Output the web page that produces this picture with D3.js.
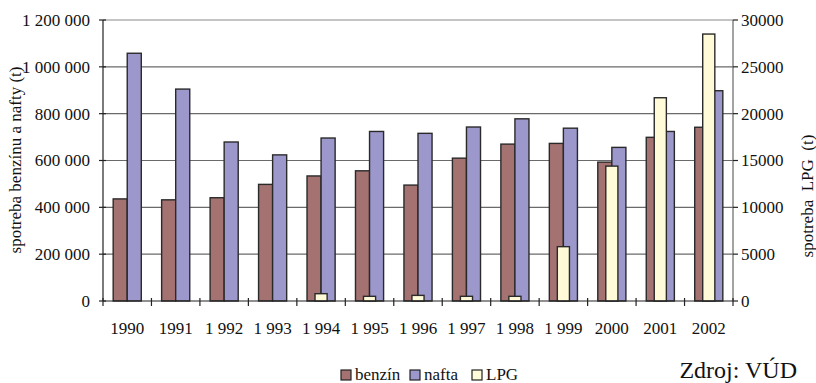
<!DOCTYPE html>
<html><head><meta charset="utf-8">
<script src="https://cdn.jsdelivr.net/npm/d3@7"></script>
<style>
html,body{margin:0;padding:0;background:#fff;}
svg{display:block;}
svg text{font-family:"Liberation Serif","DejaVu Serif",serif;}
</style></head>
<body>
<svg id="c" width="816" height="383"></svg>
<script>
const years = ["1990","1991","1 992","1 993","1 994","1 995","1 996","1 997","1 998","1 999","2000","2001","2002"];
const benzin = [436000,432000,441000,498000,534000,556000,495000,610000,670000,673000,593000,699000,742000];
const nafta  = [1058000,905000,679000,624000,696000,724000,716000,743000,778000,738000,656000,724000,898000];
const lpg    = [0,0,0,0,780,500,600,500,500,5800,14400,21700,28500];
const leftTicks  = [0,200000,400000,600000,800000,1000000,1200000];
const rightTicks = [0,5000,10000,15000,20000,25000,30000];
const seriesNames = ["benzín","nafta","LPG"];
const colors = ["#A57272","#9C98CC","#FFFAD7"];
const FONT = "Liberation Serif, DejaVu Serif, serif";

const svg = d3.select("#c").attr("font-family",FONT);
const L = 103, R = 733, T = 20, B = 301;
const x = d3.scaleBand().domain(years).range([L,R]).padding(0);
const y0 = d3.scaleLinear().domain([0,1200000]).range([B,T]);
const y1 = d3.scaleLinear().domain([0,30000]).range([B,T]);
const loc = d3.formatLocale({decimal:",",thousands:" ",grouping:[3],currency:["",""]});
const fmtL = loc.format(",d");

// gridlines
svg.append("g").selectAll("line").data(leftTicks.filter(d=>d>0)).join("line")
  .attr("x1",L).attr("x2",R).attr("y1",d=>y0(d)).attr("y2",d=>y0(d))
  .attr("stroke",d=>d===1200000?"#8a8a8a":"#6a6a6a").attr("stroke-width",1.2);

const bw = x.bandwidth()*0.29;
const lw = x.bandwidth()*0.25;
const c = d => x(d)+x.bandwidth()/2;
const bars = svg.append("g").attr("stroke","#2a2a2a").attr("stroke-width",1.4);
bars.selectAll(".b").data(years.map((d,i)=>({y:d,v:benzin[i]}))).join("rect")
  .attr("x",d=>c(d.y)-bw).attr("width",bw).attr("y",d=>y0(d.v)).attr("height",d=>B-y0(d.v)).attr("fill",colors[0]);
bars.selectAll(".n").data(years.map((d,i)=>({y:d,v:nafta[i]}))).join("rect").attr("class","n")
  .attr("x",d=>c(d.y)).attr("width",bw).attr("y",d=>y0(d.v)).attr("height",d=>B-y0(d.v)).attr("fill",colors[1]);
bars.selectAll(".l").data(years.map((d,i)=>({y:d,v:lpg[i]})).filter(d=>d.v>0)).join("rect").attr("class","l")
  .attr("x",d=>c(d.y)-lw/2).attr("width",lw).attr("y",d=>y1(d.v)).attr("height",d=>B-y1(d.v)).attr("fill",colors[2]);

// axes
const ax = svg.append("g").attr("stroke","#222").attr("stroke-width",1.2);
ax.append("line").attr("x1",L).attr("x2",L).attr("y1",T).attr("y2",B);
ax.append("line").attr("x1",R).attr("x2",R).attr("y1",T).attr("y2",B).attr("stroke","#666");
ax.append("line").attr("x1",L).attr("x2",R).attr("y1",B).attr("y2",B);
ax.selectAll(".lt").data(leftTicks).join("line").attr("x1",L-4).attr("x2",L+3).attr("y1",d=>y0(d)).attr("y2",d=>y0(d));
ax.selectAll(".rt").data(rightTicks).join("line").attr("class","rt").attr("x1",R).attr("x2",R+5).attr("y1",d=>y1(d)).attr("y2",d=>y1(d));
const bounds = years.map(d=>x(d)).concat([R]);
ax.selectAll(".xt").data(bounds).join("line").attr("class","xt").attr("x1",d=>d).attr("x2",d=>d).attr("y1",B-3).attr("y2",B+5);

const fs = 17;
svg.append("g").selectAll("text").data(leftTicks).join("text")
  .attr("x",L-13).attr("y",d=>y0(d)).attr("dy","0.35em").attr("text-anchor","end")
  .attr("font-family",FONT).attr("font-size",fs).attr("fill","#111").text(d=>fmtL(d));
svg.append("g").selectAll("text").data(rightTicks).join("text")
  .attr("x",R+8).attr("y",d=>y1(d)).attr("dy","0.35em").attr("text-anchor","start")
  .attr("font-family",FONT).attr("font-size",fs).attr("fill","#111").text(d=>String(d));
svg.append("g").selectAll("text").data(years).join("text")
  .attr("x",d=>c(d)).attr("y",334).attr("text-anchor","middle")
  .attr("font-family",FONT).attr("font-size",fs).attr("fill","#111").text(d=>d);

svg.append("text").attr("transform","translate(21,160) rotate(-90)").attr("text-anchor","middle")
  .attr("font-family",FONT).attr("font-size",17).attr("fill","#111").text("spotreba benzínu a nafty (t)");
svg.append("text").attr("transform","translate(813,196) rotate(-90)").attr("text-anchor","middle")
  .attr("font-family",FONT).attr("font-size",17).attr("fill","#111").style("white-space","pre").text("spotreba  LPG  (t)");

// legend
const lg = svg.append("g");
const lx = [341,410,472];
seriesNames.forEach((n,i)=>{
  lg.append("rect").attr("x",lx[i]).attr("y",370).attr("width",10).attr("height",10)
    .attr("fill",colors[i]).attr("stroke","#222").attr("stroke-width",1.2);
  lg.append("text").attr("x",lx[i]+14).attr("y",380).attr("font-family",FONT).attr("font-size",fs).attr("fill","#111").text(n);
});
svg.append("text").attr("x",797).attr("y",378).attr("text-anchor","end").attr("font-family",FONT).attr("font-size",24).attr("fill","#111").text("Zdroj: VÚD");
</script>
</body></html>
